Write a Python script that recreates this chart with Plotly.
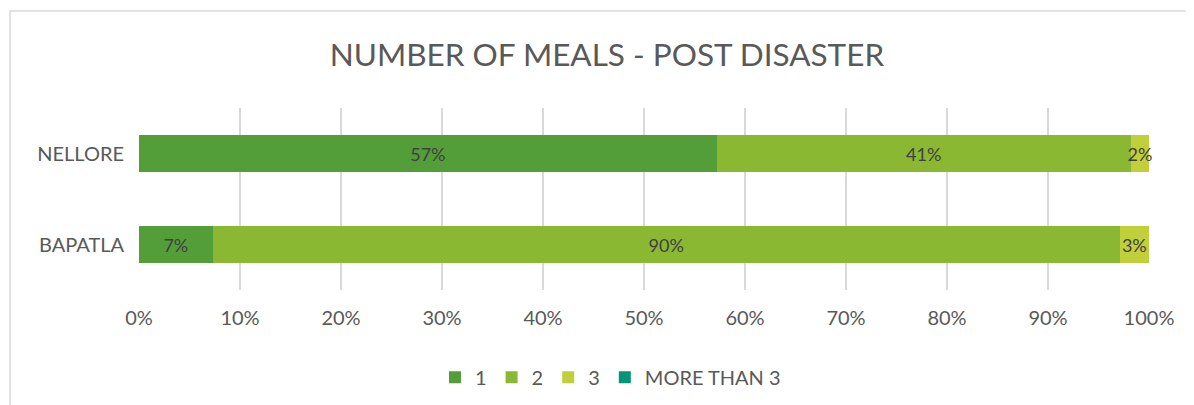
import plotly.graph_objects as go

districts = ["BAPATLA", "NELLORE"]
series_names = ["1", "2", "3", "MORE THAN 3"]
share_1 = [7.3, 57.2]
share_2 = [89.8, 41.0]
share_3 = [2.9, 1.8]
share_more = [0, 0]
tick_vals = [0, 10, 20, 30, 40, 50, 60, 70, 80, 90, 100]

colors = ["#549E39", "#8AB833", "#C0CF3A", "#029676"]
FONT = "Lato, 'Open Sans', sans-serif"

fig = go.Figure()
for name, vals, col in zip(series_names, [share_1, share_2, share_3, share_more], colors):
    labels = [f"{round(v)}%" if v > 0 else "" for v in vals]
    fig.add_trace(go.Bar(
        y=districts, x=vals, name=name, orientation="h",
        marker=dict(color=col, line=dict(width=0)),
        text=labels, textposition="inside", insidetextanchor="middle",
        textangle=0, constraintext="none", cliponaxis=False,
        textfont=dict(color="#404040", size=18, family=FONT),
        hoverinfo="skip",
    ))

# page body has an 8px margin, so the figure is a bit smaller than the window
fig.update_layout(
    barmode="stack",
    bargap=0.6,
    width=1186, height=397,
    paper_bgcolor="white", plot_bgcolor="white",
    margin=dict(l=131, r=45, t=100, b=115, autoexpand=False),
    font=dict(family=FONT, color="#595959", size=20),
    title=dict(text="NUMBER OF MEALS - POST DISASTER", x=0.505, xanchor="center",
               y=0.882, yanchor="middle",
               font=dict(size=31.5, color="#595959", family=FONT)),
    xaxis=dict(range=[0, 100], tickvals=tick_vals,
               ticktext=[f"{v}%" for v in tick_vals],
               showgrid=True, gridcolor="#D9D9D9", gridwidth=2,
               zeroline=False, showline=False, ticks="",
               automargin=False, ticklabelstandoff=14,
               tickfont=dict(size=20, color="#595959")),
    yaxis=dict(showgrid=False, zeroline=False, showline=False, ticks="",
               automargin=False, ticklabelstandoff=14,
               tickfont=dict(size=20, color="#595959")),
    legend=dict(orientation="h", xref="container", x=0.508, xanchor="center",
                yref="container", y=0.07, yanchor="middle",
                traceorder="normal", font=dict(size=20, color="#595959"),
                itemwidth=30),
    shapes=[dict(type="rect", xref="paper", yref="paper",
                 x0=-0.1277, x1=1.06, y0=-1.0, y1=1.533,
                 line=dict(color="#D9D9D9", width=1.5), layer="below")],
)

fig.write_html("out.html", post_script="document.body.style.overflow = 'hidden';")
